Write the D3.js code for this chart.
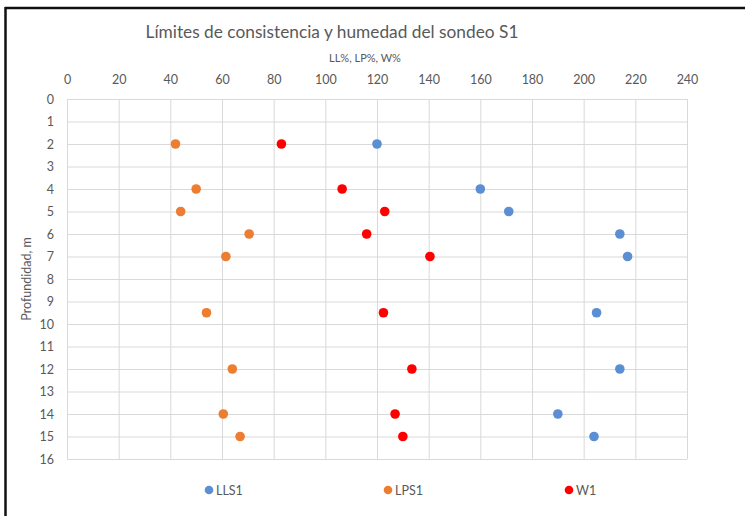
<!DOCTYPE html>
<html>
<head>
<meta charset="utf-8">
<script src="https://cdn.jsdelivr.net/npm/d3@7"></script>
<style>
  html, body { margin: 0; padding: 0; background: #fff; }
  svg { display: block; }
  text { font-family: Lato, "Open Sans", sans-serif; }
</style>
</head>
<body>
<svg id="chart" width="745" height="516"></svg>
<script>
// ---- data ----
const seriesNames = ["LLS1", "LPS1", "W1"];
const seriesColors = ["#5B8FD3", "#ED7D31", "#FF0000"];
const depthsLL = [2, 4, 5, 6, 7, 9.5, 12, 14, 15];
const valuesLL = [120, 160, 171, 214, 217, 205, 214, 190, 204];
const depthsLP = [2, 4, 5, 6, 7, 9.5, 12, 14, 15];
const valuesLP = [42, 50, 44, 70.5, 61.5, 54, 64, 60.5, 67];
const depthsW = [2, 4, 5, 6, 7, 9.5, 12, 14, 15];
const valuesW = [83, 106.5, 123, 116, 140.5, 122.5, 133.5, 127, 130];
const xTicks = [0, 20, 40, 60, 80, 100, 120, 140, 160, 180, 200, 220, 240];
const yTicks = d3.range(0, 17);
const titleText = "Límites de consistencia y humedad del sondeo S1";
const xTitle = "LL%, LP%, W%";
const yTitle = "Profundidad, m";

const svg = d3.select("#chart");
const W = 745, H = 516;

// frame (top and left edges visible)
svg.append("line").attr("x1", 5).attr("x2", W).attr("y1", 8).attr("y2", 8)
  .attr("stroke", "#111").attr("stroke-width", 2.5);
svg.append("line").attr("x1", 5.5).attr("x2", 5.5).attr("y1", 7).attr("y2", H)
  .attr("stroke", "#111").attr("stroke-width", 2.5);

const x = d3.scaleLinear().domain([0, 240]).range([67, 687]);
const y = d3.scaleLinear().domain([0, 16]).range([99, 459]);

// gridlines
const grid = svg.append("g");
grid.selectAll(".vx").data(xTicks).join("line")
  .attr("x1", d => x(d) + 0.5).attr("x2", d => x(d) + 0.5)
  .attr("y1", y(0)).attr("y2", y(16))
  .attr("stroke", "#d9d9d9").attr("stroke-width", 1);
grid.selectAll(".hy").data(yTicks).join("line")
  .attr("x1", x(0)).attr("x2", x(240))
  .attr("y1", d => y(d) + 0.5).attr("y2", d => y(d) + 0.5)
  .attr("stroke", "#d9d9d9").attr("stroke-width", 1);

// top axis labels
const xAxis = d3.axisTop(x).tickValues(xTicks).tickSize(0).tickPadding(0);
const gx = svg.append("g").attr("transform", `translate(0,${y(0) - 15})`).call(xAxis);
gx.select(".domain").remove();
gx.selectAll("text").attr("fill", "#595959").attr("font-size", 12.5)
  .attr("font-family", "Lato, 'Open Sans', sans-serif");

// left axis labels
const yAxis = d3.axisLeft(y).tickValues(yTicks).tickSize(0).tickPadding(0);
const gy = svg.append("g").attr("transform", `translate(${x(0) - 13},0)`).call(yAxis);
gy.select(".domain").remove();
gy.selectAll("text").attr("fill", "#595959").attr("font-size", 12.5)
  .attr("font-family", "Lato, 'Open Sans', sans-serif");

// titles
svg.append("text").attr("x", 332).attr("y", 38).attr("text-anchor", "middle")
  .attr("font-size", 17.3).attr("fill", "#595959").text(titleText);
svg.append("text").attr("x", 365).attr("y", 62).attr("text-anchor", "middle")
  .attr("font-size", 11).attr("fill", "#595959").text(xTitle);
svg.append("text").attr("transform", `translate(31,${(y(0) + y(16)) / 2}) rotate(-90)`)
  .attr("text-anchor", "middle").attr("font-size", 12.5).attr("fill", "#595959").text(yTitle);

// points
const series = [
  { name: seriesNames[0], color: seriesColors[0], d: depthsLL, v: valuesLL },
  { name: seriesNames[1], color: seriesColors[1], d: depthsLP, v: valuesLP },
  { name: seriesNames[2], color: seriesColors[2], d: depthsW, v: valuesW }
];
series.forEach(s => {
  svg.append("g").selectAll("circle").data(s.d.map((dd, i) => [s.v[i], dd])).join("circle")
    .attr("cx", p => x(p[0])).attr("cy", p => y(p[1])).attr("r", 4.8)
    .attr("fill", s.color);
});

// legend
const legendX = [209, 388, 569];
const lg = svg.append("g");
series.forEach((s, i) => {
  lg.append("circle").attr("cx", legendX[i]).attr("cy", 490).attr("r", 4.3).attr("fill", s.color);
  lg.append("text").attr("x", legendX[i] + 7).attr("y", 494.5).attr("font-size", 12.5)
    .attr("fill", "#595959").text(s.name);
});
</script>
</body>
</html>
